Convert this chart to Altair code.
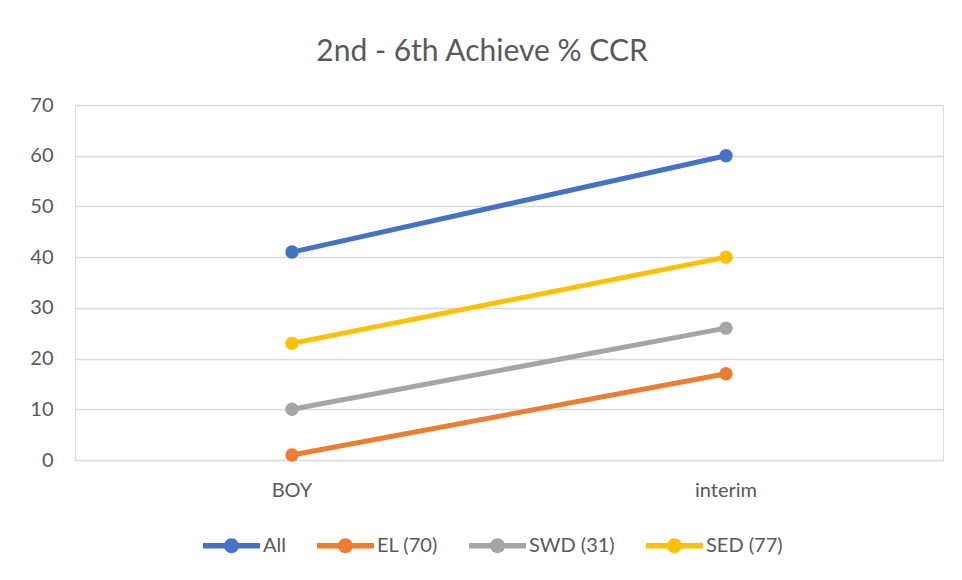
import altair as alt
import pandas as pd

periods = ["BOY", "interim"]
series = ["All", "EL (70)", "SWD (31)", "SED (77)"]
colors = ["#4472C4", "#ED7D31", "#A5A5A5", "#FFC000"]
all_vals = [41, 60]
el_vals = [1, 17]
swd_vals = [10, 26]
sed_vals = [23, 40]
y_ticks = [0, 10, 20, 30, 40, 50, 60, 70]

rows = []
for name, vals in zip(series, [all_vals, el_vals, swd_vals, sed_vals]):
    for p, v in zip(periods, vals):
        rows.append({"period": p, "series": name, "value": v})
df = pd.DataFrame(rows)

legend_path = ("M -1 -0.095 L 1 -0.095 L 1 0.095 L -1 0.095 Z "
               "M 0.26 0 A 0.26 0.26 0 1 1 -0.26 0 A 0.26 0.26 0 1 1 0.26 0 Z")

x = alt.X("period:N", sort=periods, title=None,
          scale=alt.Scale(domain=periods, paddingInner=0, paddingOuter=0, type="band"),
          axis=alt.Axis(labelAngle=0, ticks=False, domain=False, grid=False,
                        labelPadding=20, labelFontSize=20, labelColor="#595959",
                        labelFont="Lato"))
y = alt.Y("value:Q", title=None,
          scale=alt.Scale(domain=[0, 70], nice=False),
          axis=alt.Axis(values=y_ticks, ticks=False, domain=False, grid=True,
                        gridColor="#D9D9D9", gridWidth=1.5, labelPadding=22,
                        labelFontSize=20, labelColor="#595959", labelFont="Lato"))
color = alt.Color("series:N", sort=series, title=None,
                  scale=alt.Scale(domain=series, range=colors),
                  legend=alt.Legend(orient="none", direction="horizontal",
                                    legendX=128, legendY=412,
                                    symbolType=legend_path, symbolSize=3249,
                                    symbolStrokeWidth=0, labelFontSize=20,
                                    labelColor="#595959", labelFont="Lato",
                                    columnPadding=31, labelOffset=3))

base = alt.Chart(df)
lines = base.mark_line(strokeWidth=5).encode(x=x, y=y, color=color, detail="series:N")
points = base.mark_circle(size=180, opacity=1).encode(x=x, y=y, color=color)

chart = alt.layer(lines, points).properties(
    width=868, height=355,
    autosize=alt.AutoSizeParams(type="none"),
    padding={"left": 67, "top": 97, "right": 11, "bottom": 112},
    title=alt.TitleParams("2nd - 6th Achieve % CCR", fontSize=30, font="Lato",
                          fontWeight="normal", color="#595959", anchor="middle",
                          offset=28, dx=-27),
).configure_view(stroke=None).configure(background="white")

chart.save("out.html", embed_options={"renderer": "svg", "actions": False})
